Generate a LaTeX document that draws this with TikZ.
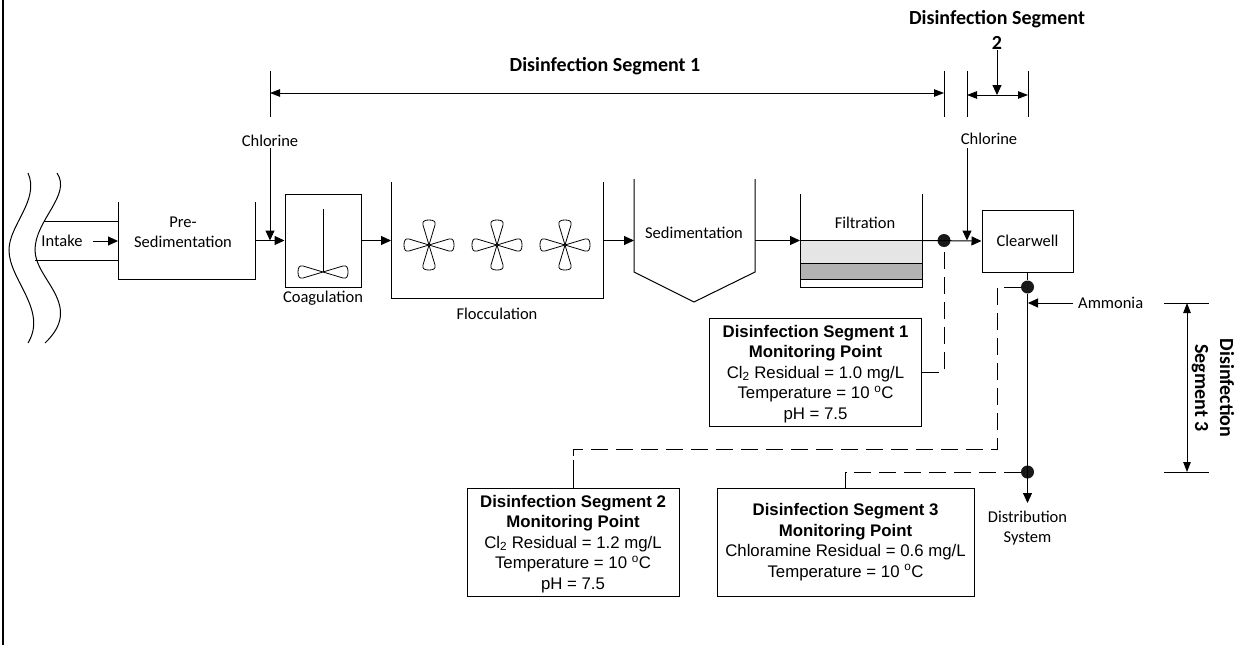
\documentclass[tikz,border=0pt]{standalone}
\usepackage{fontspec}
\setmainfont{Carlito}
\newfontfamily\boxfont{Liberation Sans}
\usetikzlibrary{arrows.meta}
\tikzset{
	flow/.style={-{Triangle[length=10pt,width=9pt]}, line width=1pt},
	tank/.style={line width=1pt},
	dim/.style={{Triangle[length=10pt,width=7.5pt]}-{Triangle[length=10pt,width=7.5pt]}, line width=0.9pt},
	tick/.style={line width=0.8pt},
	monitor/.style={draw, line width=1pt, minimum height=108pt, align=center, font=\boxfont\fontsize{16.8}{20.6}\selectfont, inner sep=0pt},
	label/.style={font=\fontsize{16.5}{20}\selectfont, align=center, inner sep=0pt},
	seglabel/.style={font=\bfseries\fontsize{20}{25}\selectfont, align=center, inner sep=0pt},
	probe/.style={circle, fill=black!90, inner sep=0pt, minimum size=13pt},
	link/.style={line width=1pt, dash pattern=on 17pt off 8pt},
	blade/.style={line width=0.8pt}
}
\newcommand{\petal}[2]{
	\draw[blade, shift={(#1)}, rotate=#2] (0,0) -- (20,-6) .. controls (24,-7) and (25,-4) .. (25,0) .. controls (25,4) and (24,7) .. (20,6) -- cycle;
}
\newcommand{\headline}[1]{\rule{0pt}{16pt}\textbf{#1}}
\begin{document}
\begin{tikzpicture}[x=1pt,y=-1pt]
	\useasboundingbox (0,0) rectangle (1239,645);
	% frame
	\draw[line width=2.5pt] (3,0) -- (3,645);

	% water body
	\draw[tank] (28,173) .. controls (40,200) and (9,225) .. (9,250) .. controls (9,280) and (48,310) .. (28,343);
	\draw[tank] (57,173) .. controls (72,195) and (35,220) .. (35,250) .. controls (35,280) and (85,305) .. (45,343);

	% intake
	\draw[tank] (44,221) -- (118,221);
	\draw[tank] (35,260) -- (118,260);
	\node[label] (intake) at (62,241) {Intake};
	\coordinate (preIn) at (118,241);

	% pre sedimentation
	\draw[tank] (118,202) -- (118,279) -- (255,279) -- (255,202);
	\node[label] (presed) at (183,232) {Pre-\\Sedimentation};
	\coordinate (preOut) at (255,240.5);

	% coagulation
	\node[draw, line width=1pt, minimum width=76pt, minimum height=93pt, inner sep=0pt] (coag) at (323,240.5) {};
	\node[label] (coaglabel) at (323,298) {Coagulation};
	\draw[blade] (323,209) -- (323,272);
	\petal{323,272}{0}
	\petal{323,272}{180}

	% flocculation
	\draw[tank] (391,182) -- (391,298) -- (603,298) -- (603,182);
	\node[label] (floc) at (497,314) {Flocculation};
	\foreach \cx in {429,497,565}{
		\foreach \ang in {0,90,180,270}{
			\petal{\cx,245}{\ang}
		}
	}
	\coordinate (flocIn) at (391,240.5);
	\coordinate (flocOut) at (603,240.5);

	% sedimentation
	\draw[tank] (634,179) -- (634,272) -- (694,302) -- (755,272) -- (755,179);
	\node[label] (sed) at (694,233) {Sedimentation};
	\coordinate (sedIn) at (634,240.5);
	\coordinate (sedOut) at (755,240.5);

	% filtration
	\draw[tank, fill=black!10] (800,240.5) rectangle (922,263);
	\draw[tank, fill=black!30] (800,263) rectangle (922,279);
	\draw[tank] (800,279) rectangle (922,287);
	\draw[tank] (800,194) -- (800,287);
	\draw[tank] (922,194) -- (922,287);
	\node[label] (filt) at (865,223) {Filtration};
	\coordinate (filtIn) at (800,240.5);
	\coordinate (filtOut) at (922,240.5);

	% clearwell
	\node[draw, label, line width=1pt, minimum width=91pt, minimum height=62pt] (clear) at (1027.5,241) {Clearwell};
	\node[probe] (probeA) at (944,240.5) {};
	\node[probe] (probeB) at (1027.5,287) {};
	\node[probe] (probeC) at (1027.5,472) {};

	\draw[flow] (intake.east) ++(10,0) -- (preIn);
	\draw[flow] (preOut) -- (coag.west);
	\draw[flow] (coag.east) -- (flocIn);
	\draw[flow] (flocOut) -- (sedIn);
	\draw[flow] (sedOut) -- (filtIn);
	\draw[flow] (filtOut) -- (clear.west);

	% chemicals
	\node[label] (clA) at (270,141) {Chlorine};
	\node[label] (clB) at (989,139) {Chlorine};
	\node[label, anchor=west] (ammonia) at (1078,303) {Ammonia};
	\coordinate (clAtop) at (270,148);
	\coordinate (clBtop) at (967,148);
	\coordinate (clAin) at (270,240.5);
	\coordinate (clBin) at (967,240.5);
	\draw[flow] (clAtop) -- (clAin);
	\draw[flow] (clBtop) -- (clBin);
	\draw[flow] (ammonia.west) ++(-5,0) -- (1028,303);

	% distribution
	\node[label] (dist) at (1027.5,528) {Distribution\\System};
	\draw[tank] (clear.south -| probeB) -- (probeB);
	\draw[flow] (probeB) -- (1027.5,503);

	% segments
	\node[seglabel] (segA) at (605,66) {Disinfection Segment 1};
	\node[seglabel] (segB) at (997,29.5) {Disinfection Segment\\2};
	\draw[tick] (270,71) -- (270,117);
	\draw[tick] (944,71) -- (944,117);
	\draw[tick] (967,71) -- (967,117);
	\draw[tick] (1028,71) -- (1028,117);
	\coordinate (segAleft) at (270,93);
	\coordinate (segAright) at (944,93);
	\coordinate (segBleft) at (967,95);
	\coordinate (segBright) at (1028,95);
	\coordinate (segBmid) at (997,95);
	\coordinate (segBtop) at (997,50);
	\draw[dim] (segAleft) -- (segAright);
	\draw[dim] (segBleft) -- (segBright);
	\draw[flow] (segBtop) -- (segBmid);

	\draw[tick] (1164,303) -- (1209,303);
	\draw[tick] (1164,472) -- (1209,472);
	\coordinate (segCtop) at (1187,303);
	\coordinate (segCbot) at (1187,472);
	\draw[dim] (segCtop) -- (segCbot);
	\node[seglabel, rotate=-90] (segC) at (1213,388) {Disinfection\\Segment 3};

	% monitoring points
	\node[monitor, minimum width=212pt] (monA) at (815.5,372) {\headline{Disinfection Segment 1}\\\textbf{Monitoring Point}\\Cl\textsubscript{2} Residual = 1.0 mg/L\\Temperature = 10 \textsuperscript{o}C\\pH = 7.5};
	\node[monitor, minimum width=212pt] (monB) at (573,542) {\headline{Disinfection Segment 2}\\\textbf{Monitoring Point}\\Cl\textsubscript{2} Residual = 1.2 mg/L\\Temperature = 10 \textsuperscript{o}C\\pH = 7.5};
	\node[monitor, minimum width=257pt] (monC) at (845.5,542) {\textbf{Disinfection Segment 3}\\\textbf{Monitoring Point}\\Chloramine Residual = 0.6 mg/L\\Temperature = 10 \textsuperscript{o}C};

	\coordinate (bendB) at (997,449);
	\coordinate (bendBB) at (573,449);
	\coordinate (stubB) at (573,460);
	\coordinate (bendC) at (845.5,472);
	\draw[link] (monA.east) -| (probeA.south);
	\draw[link] (probeB.west) -| (bendB) -- (bendBB) -- (stubB);
	\draw[tank] (stubB) -- (monB.north);
	\draw[link] (probeC.west) -- (bendC);
	\draw[tank] (bendC) -- (monC.north);
\end{tikzpicture}
\end{document}
